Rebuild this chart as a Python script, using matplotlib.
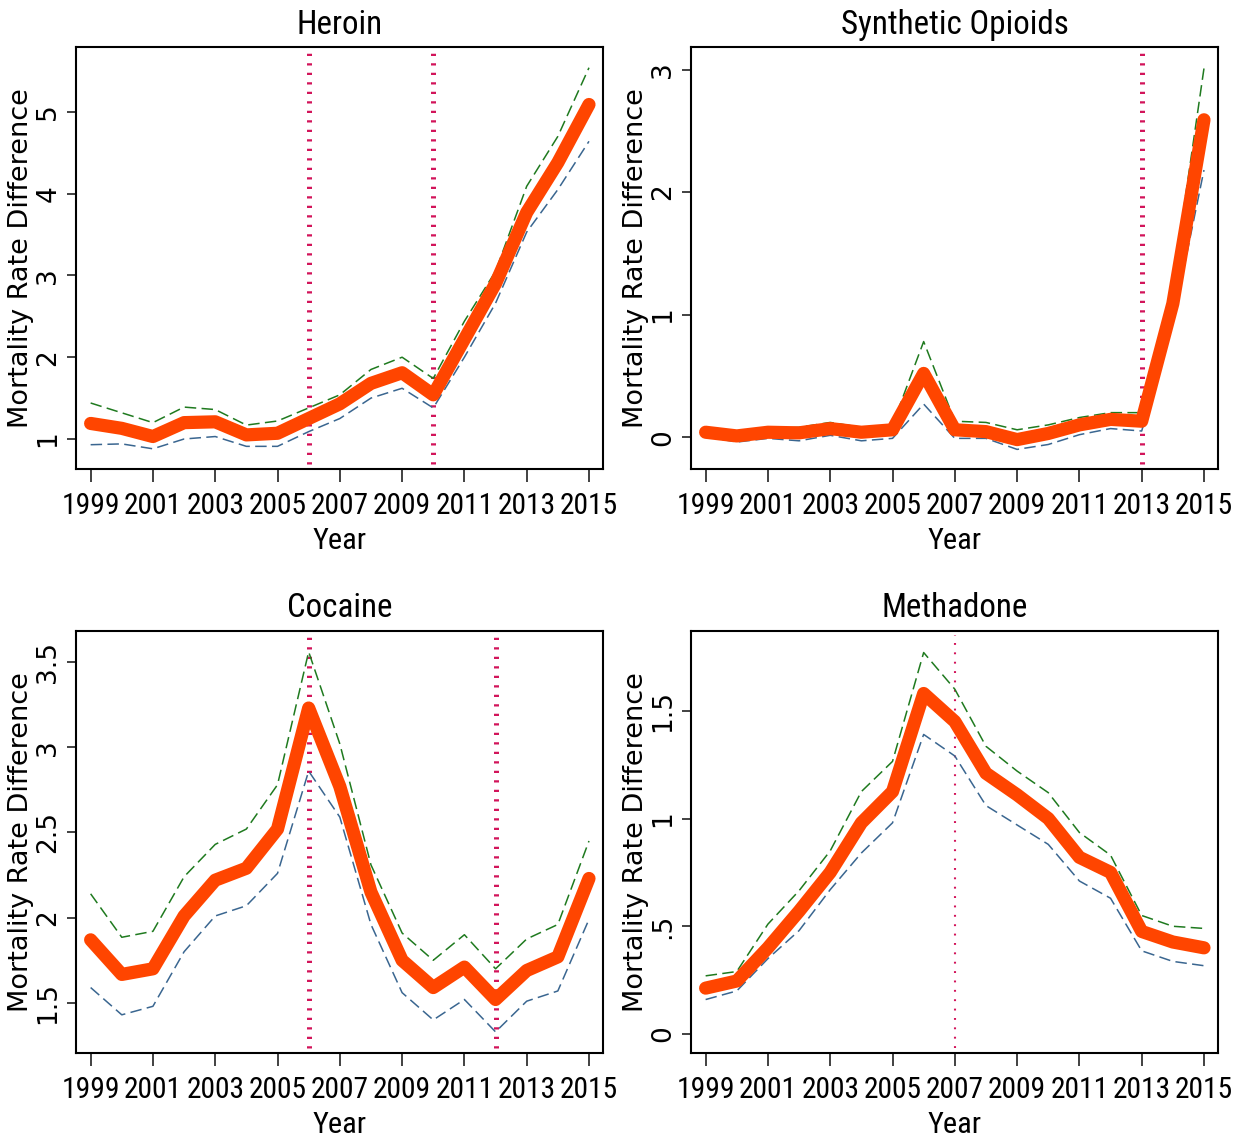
import matplotlib
matplotlib.use('Agg')
import matplotlib.pyplot as plt
from matplotlib import font_manager
from matplotlib.font_manager import FontProperties
from matplotlib.textpath import TextPath

# --- data ---
years = list(range(1999, 2016))

heroin_est = [1.19, 1.13, 1.03, 1.20, 1.21, 1.05, 1.07, 1.25, 1.43, 1.68, 1.81, 1.54, 2.22, 2.90, 3.77, 4.38, 5.09]
heroin_hi = [1.44, 1.32, 1.20, 1.39, 1.36, 1.17, 1.22, 1.38, 1.54, 1.85, 2.00, 1.74, 2.44, 3.05, 4.09, 4.70, 5.54]
heroin_lo = [0.93, 0.94, 0.88, 1.00, 1.03, 0.91, 0.91, 1.09, 1.25, 1.50, 1.62, 1.38, 2.00, 2.66, 3.53, 4.05, 4.64]
heroin_vlines = [2006, 2010]

synth_est = [0.04, 0.01, 0.04, 0.035, 0.07, 0.04, 0.06, 0.52, 0.06, 0.045, -0.02, 0.03, 0.10, 0.145, 0.13, 1.09, 2.59]
synth_hi = [0.06, 0.035, 0.07, 0.08, 0.12, 0.08, 0.10, 0.78, 0.13, 0.12, 0.06, 0.10, 0.16, 0.20, 0.20, 1.25, 3.01]
synth_lo = [0.005, -0.04, -0.01, -0.03, 0.015, -0.03, -0.01, 0.27, -0.01, -0.01, -0.10, -0.06, 0.02, 0.07, 0.05, 0.94, 2.18]
synth_vlines = [2013]

cocaine_est = [1.87, 1.667, 1.70, 2.01, 2.22, 2.29, 2.52, 3.23, 2.77, 2.15, 1.75, 1.59, 1.71, 1.52, 1.69, 1.77, 2.23]
cocaine_hi = [2.14, 1.885, 1.92, 2.24, 2.43, 2.52, 2.78, 3.56, 3.02, 2.31, 1.91, 1.75, 1.90, 1.70, 1.875, 1.96, 2.45]
cocaine_lo = [1.59, 1.43, 1.48, 1.80, 2.01, 2.07, 2.26, 2.86, 2.59, 1.96, 1.56, 1.40, 1.52, 1.33, 1.51, 1.57, 1.99]
cocaine_vlines = [2006, 2012]

methadone_est = [0.213, 0.246, 0.40, 0.57, 0.75, 0.98, 1.125, 1.58, 1.45, 1.21, 1.11, 1.00, 0.82, 0.75, 0.476, 0.427, 0.40]
methadone_hi = [0.27, 0.29, 0.51, 0.665, 0.85, 1.125, 1.265, 1.77, 1.60, 1.335, 1.22, 1.12, 0.935, 0.83, 0.55, 0.50, 0.49]
methadone_lo = [0.16, 0.20, 0.35, 0.48, 0.67, 0.84, 0.98, 1.39, 1.29, 1.06, 0.97, 0.88, 0.71, 0.63, 0.386, 0.337, 0.317]
methadone_vlines = [2007]

# y ticks per panel
heroin_yticks = [1, 2, 3, 4, 5]
heroin_ylabels = ['1', '2', '3', '4', '5']
synth_yticks = [0, 1, 2, 3]
synth_ylabels = ['0', '1', '2', '3']
cocaine_yticks = [1.5, 2, 2.5, 3, 3.5]
cocaine_ylabels = ['1.5', '2', '2.5', '3', '3.5']
methadone_yticks = [0, 0.5, 1, 1.5]
methadone_ylabels = ['0', '.5', '1', '1.5']

xticks = list(range(1999, 2016, 2))

# --- fonts: horizontal text in the reference is condensed ---
def find_condensed():
    prefs = ['LiberationSansNarrow-Regular', 'RobotoCondensed-Regular', 'Roboto_Condensed',
             'NotoSans-Condensed.', 'NotoSansCondensed-Regular', 'OpenSans_Condensed-Regular',
             'OpenSansCondensed', 'DejaVuSansCondensed.', 'Narrow', 'Condensed']
    files = [f.fname for f in font_manager.fontManager.ttflist]
    files += font_manager.findSystemFonts()
    for p in prefs:
        for fn in files:
            base = fn.split('/')[-1]
            if p in base and 'Bold' not in base and 'Italic' not in base \
                    and 'Light' not in base and 'Oblique' not in base and 'Medium' not in base:
                return FontProperties(fname=fn)
    return FontProperties(family='Liberation Sans')

cond = find_condensed()

def fit_size(text, width_px, height_px):
    # font size (pt) so that the ink of `text` is about width_px wide, capped by cap height
    tp = TextPath((0, 0), text, size=100, prop=cond)
    ext = tp.get_extents()
    s_w = width_px / (ext.width / 100.0)
    s_h = height_px / (TextPath((0, 0), 'H', size=100, prop=cond).get_extents().height / 100.0)
    return min(s_w, s_h) * 72 / 100.0

tick_size = fit_size('1999', 56, 21)
title_size = fit_size('Heroin', 84, 23.5)
xlab_size = fit_size('Year', 53, 22)

wide = 'DejaVu Sans'

fig = plt.figure(figsize=(12.44, 11.37), dpi=100)
W, H = 1244.0, 1137.0

def make_ax(left, top, right, bottom):
    return fig.add_axes([left / W, 1 - bottom / H, (right - left) / W, (bottom - top) / H])

panels = [
    ('Heroin', (76, 47.5, 603, 469), heroin_est, heroin_hi, heroin_lo, heroin_vlines,
     (0.633, 5.787), heroin_yticks, heroin_ylabels, 'thick'),
    ('Synthetic Opioids', (691, 47.5, 1218, 469), synth_est, synth_hi, synth_lo, synth_vlines,
     (-0.26, 3.18), synth_yticks, synth_ylabels, 'thick'),
    ('Cocaine', (76, 631, 603, 1053), cocaine_est, cocaine_hi, cocaine_lo, cocaine_vlines,
     (1.206, 3.682), cocaine_yticks, cocaine_ylabels, 'thick'),
    ('Methadone', (691, 631, 1218, 1053), methadone_est, methadone_hi, methadone_lo, methadone_vlines,
     (-0.088, 1.87), methadone_yticks, methadone_ylabels, 'thin'),
]

for title, box, est, hi, lo, vlines, ylim, yt, ytl, vstyle in panels:
    ax = make_ax(*box)
    for v in vlines:
        if vstyle == 'thick':
            ax.axvline(v, ymin=0.012, ymax=0.99, color='#d2145a', lw=3.6,
                       dashes=(0.45, 1.45), solid_capstyle='butt', zorder=1)
        else:
            ax.axvline(v, ymin=0.012, ymax=0.99, color='#d2145a', lw=1.5,
                       dashes=(0.9, 3.6), zorder=1)
    ax.plot(years, hi, color='#1f7a1f', lw=1.1, dashes=(7.5, 3.5), zorder=2)
    ax.plot(years, lo, color='#3a6690', lw=1.1, dashes=(7.5, 3.5), zorder=2)
    ax.plot(years, est, color='#ff4500', lw=9.5, solid_capstyle='round',
            solid_joinstyle='round', zorder=3)

    ax.set_xlim(1998.53, 2015.45)
    ax.set_ylim(*ylim)
    ax.set_xticks(xticks)
    ax.set_xticklabels([str(x) for x in xticks], fontproperties=cond, fontsize=tick_size)
    ax.set_yticks(yt, ytl, rotation=90, va='center', fontfamily=wide, fontsize=19)

    ax.tick_params(axis='x', length=9.5, width=1.3, pad=7, color='#333333')
    ax.tick_params(axis='y', length=6.5, width=1.3, pad=4, color='#333333')
    for s in ax.spines.values():
        s.set_linewidth(1.5)

    ax.set_title(title, fontproperties=cond, fontsize=title_size, pad=10)
    ax.set_xlabel('Year', fontproperties=cond, fontsize=xlab_size, labelpad=5)
    ax.set_ylabel('Mortality Rate Difference', fontfamily=wide, fontsize=19.5)
    ax.yaxis.set_label_coords(-0.08, 0.5)

fig.savefig('out.png', dpi=100)
